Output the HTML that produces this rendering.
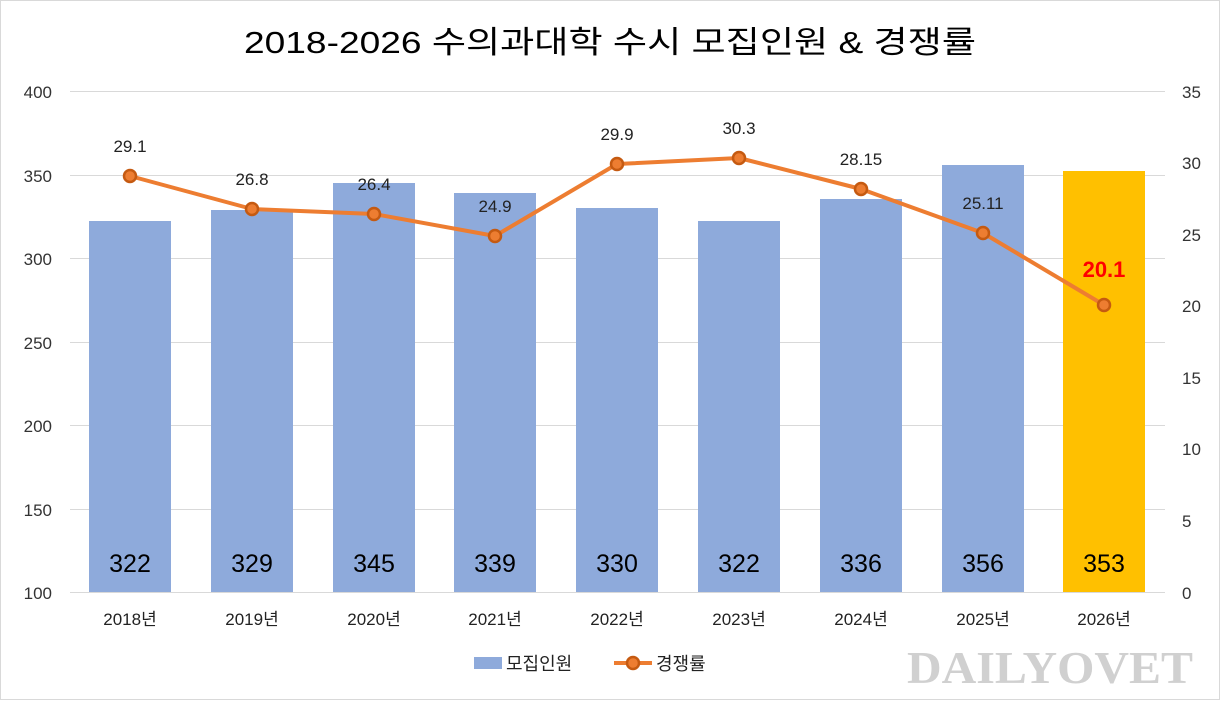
<!DOCTYPE html><html><head><meta charset="utf-8"><style>body{margin:0;background:#fff}svg{display:block}text{font-family:"Liberation Sans","Noto Sans CJK KR",sans-serif}</style></head><body>
<svg width="1220" height="701" viewBox="0 0 1220 701">
<rect x="0.5" y="0.5" width="1219" height="699" fill="#fff" stroke="#d9d9d9"/>
<text x="610" y="53" text-anchor="middle" font-size="31" fill="#000" textLength="732" lengthAdjust="spacingAndGlyphs">2018-2026 수의과대학 수시 모집인원 &amp; 경쟁률</text>
<g stroke="#d9d9d9" stroke-width="1">
<line x1="70" x2="1165" y1="91.5" y2="91.5"/><line x1="70" x2="1165" y1="175.5" y2="175.5"/><line x1="70" x2="1165" y1="258.5" y2="258.5"/><line x1="70" x2="1165" y1="342.5" y2="342.5"/><line x1="70" x2="1165" y1="425.5" y2="425.5"/><line x1="70" x2="1165" y1="509.5" y2="509.5"/><line x1="70" x2="1165" y1="592.5" y2="592.5"/>
</g>
<g font-size="17" fill="#333" text-anchor="end">
<text x="52" y="98">400</text><text x="52" y="182">350</text><text x="52" y="265">300</text><text x="52" y="349">250</text><text x="52" y="432">200</text><text x="52" y="516">150</text><text x="52" y="599">100</text>
</g>
<g font-size="17" fill="#333" text-anchor="start">
<text x="1182" y="98">35</text><text x="1182" y="169">30</text><text x="1182" y="241">25</text><text x="1182" y="312">20</text><text x="1182" y="384">15</text><text x="1182" y="455">10</text><text x="1182" y="527">5</text><text x="1182" y="599">0</text>
</g>
<g fill="#8eaadb">
<rect x="89" y="221" width="82" height="371"/><rect x="211" y="210" width="82" height="382"/><rect x="333" y="183" width="82" height="409"/><rect x="454" y="193" width="82" height="399"/><rect x="576" y="208" width="82" height="384"/><rect x="698" y="221" width="82" height="371"/><rect x="820" y="199" width="82" height="393"/><rect x="942" y="165" width="82" height="427"/>
</g>
<rect x="1063" y="171" width="82" height="421" fill="#ffc000"/>
<g font-size="25" fill="#000" text-anchor="middle">
<text x="130" y="572">322</text><text x="252" y="572">329</text><text x="374" y="572">345</text><text x="495" y="572">339</text><text x="617" y="572">330</text><text x="739" y="572">322</text><text x="861" y="572">336</text><text x="983" y="572">356</text><text x="1104" y="572">353</text>
</g>
<g font-size="17" fill="#222" text-anchor="middle">
<text x="130" y="625">2018년</text><text x="252" y="625">2019년</text><text x="374" y="625">2020년</text><text x="495" y="625">2021년</text><text x="617" y="625">2022년</text><text x="739" y="625">2023년</text><text x="861" y="625">2024년</text><text x="983" y="625">2025년</text><text x="1104" y="625">2026년</text>
</g>
<polyline fill="none" stroke="#ed7d31" stroke-width="4" stroke-linejoin="round" points="130,176 252,209 374,214 495,236 617,164 739,158 861,189 983,233 1104,305"/>
<g fill="#ed7d31" stroke="#c55a11" stroke-width="2.5">
<circle cx="130" cy="176" r="6"/><circle cx="252" cy="209" r="6"/><circle cx="374" cy="214" r="6"/><circle cx="495" cy="236" r="6"/><circle cx="617" cy="164" r="6"/><circle cx="739" cy="158" r="6"/><circle cx="861" cy="189" r="6"/><circle cx="983" cy="233" r="6"/><circle cx="1104" cy="305" r="6"/>
</g>
<g font-size="17" fill="#222" text-anchor="middle">
<text x="130" y="152">29.1</text><text x="252" y="185">26.8</text><text x="374" y="190">26.4</text><text x="495" y="212">24.9</text><text x="617" y="140">29.9</text><text x="739" y="134">30.3</text><text x="861" y="165">28.15</text><text x="983" y="209">25.11</text>
</g>
<text x="1104" y="277" font-size="22" font-weight="bold" fill="#ff0000" text-anchor="middle">20.1</text>
<rect x="474" y="657" width="28" height="12" fill="#8eaadb"/>
<text x="506" y="670" font-size="18" fill="#222">모집인원</text>
<line x1="614" x2="652" y1="663" y2="663" stroke="#ed7d31" stroke-width="4"/>
<circle cx="633" cy="663" r="6" fill="#ed7d31" stroke="#c55a11" stroke-width="2.5"/>
<text x="656" y="670" font-size="18" fill="#222">경쟁률</text>
<text x="1050" y="683" style="font-family:'Liberation Serif',serif" font-size="46" font-weight="bold" fill="#d0d0d0" text-anchor="middle" textLength="286" lengthAdjust="spacingAndGlyphs">DAILYOVET</text>
</svg></body></html>
